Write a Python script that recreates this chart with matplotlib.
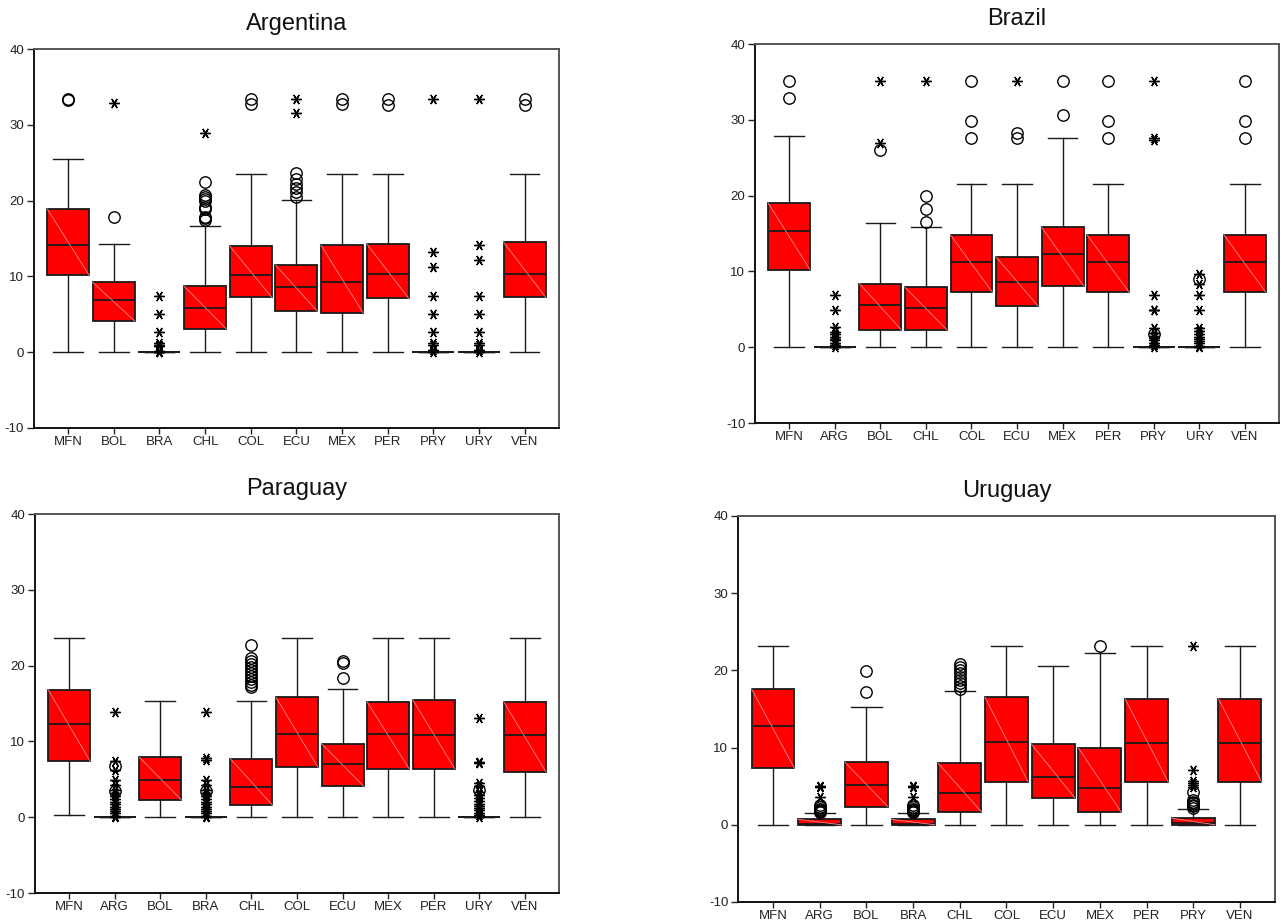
import numpy as np
import matplotlib
matplotlib.use("Agg")
import matplotlib.pyplot as plt

plt.rcParams['font.family'] = ['Liberation Sans', 'DejaVu Sans']

# ---------------- Argentina ----------------
arg_cats = ["MFN", "BOL", "BRA", "CHL", "COL", "ECU", "MEX", "PER", "PRY", "URY", "VEN"]
arg_low = [0, 0, 0, 0, 0, 0, 0, 0, 0, 0, 0]
arg_q1 = [10.15, 4.1, 0, 3.1, 7.25, 5.4, 5.2, 7.1, 0, 0, 7.25]
arg_med = [14.1, 6.9, 0, 5.8, 10.2, 8.6, 9.2, 10.3, 0, 0, 10.3]
arg_q3 = [18.9, 9.2, 0, 8.7, 14.0, 11.5, 14.1, 14.3, 0, 0, 14.5]
arg_high = [25.5, 14.3, 0, 16.6, 23.5, 20.1, 23.5, 23.5, 0, 0, 23.5]
arg_near = [[33.3, 33.45], [17.8], [], [22.4, 20.7, 20.5, 20.2, 19.9, 19.2, 18.9, 17.9, 17.7, 17.5],
            [33.4, 32.7], [23.6, 22.8, 22.2, 21.6, 21.1, 20.5], [33.4, 32.8], [33.4, 32.6],
            [], [], [33.4, 32.6]]
arg_far = [[], [32.9], [7.4, 5.05, 2.6, 1.2, 1.0, 0.85, 0.15, 0.05, 0.0], [28.9], [],
           [33.4, 31.6], [], [], [33.4, 13.2, 11.3, 7.4, 5.05, 2.6, 1.2, 0.9, 0.3, 0.0],
           [33.4, 14.1, 12.2, 7.4, 5.05, 2.6, 1.2, 0.9, 0.3, 0.0], []]

# ---------------- Brazil ----------------
bra_cats = ["MFN", "ARG", "BOL", "CHL", "COL", "ECU", "MEX", "PER", "PRY", "URY", "VEN"]
bra_low = [0, 0, 0, 0, 0, 0, 0, 0, 0, 0, 0]
bra_q1 = [10.2, 0, 2.3, 2.3, 7.25, 5.45, 8.1, 7.25, 0, 0, 7.25]
bra_med = [15.3, 0, 5.6, 5.15, 11.2, 8.6, 12.3, 11.2, 0, 0, 11.2]
bra_q3 = [19.0, 0, 8.4, 7.9, 14.8, 11.9, 15.8, 14.8, 0, 0, 14.8]
bra_high = [27.9, 0, 16.35, 15.8, 21.5, 21.5, 27.6, 21.5, 0, 0, 21.5]
bra_near = [[35.1, 32.9], [], [26.0], [19.9, 18.2, 16.5], [35.1, 29.8, 27.6], [28.3, 27.6],
            [35.1, 30.6], [35.1, 29.8, 27.6], [1.7], [9.0], [35.1, 29.8, 27.6]]
bra_far = [[], [6.9, 4.9, 2.7, 2.0, 1.7, 1.4, 1.1, 0.9, 0.6, 0.3, 0.0], [35.1, 27.0], [35.1], [],
           [35.1], [], [], [35.1, 27.55, 27.4, 6.9, 4.95, 4.85, 2.6, 1.9, 1.5, 1.2, 0.9, 0.6, 0.3, 0.0],
           [9.7, 8.3, 6.9, 4.9, 2.6, 2.1, 1.7, 1.4, 1.1, 0.8, 0.5, 0.2, 0.0], []]

# ---------------- Paraguay ----------------
pry_cats = ["MFN", "ARG", "BOL", "BRA", "CHL", "COL", "ECU", "MEX", "PER", "URY", "VEN"]
pry_low = [0.3, 0, 0, 0, 0, 0, 0, 0, 0, 0, 0]
pry_q1 = [7.4, 0, 2.3, 0, 1.6, 6.6, 4.1, 6.4, 6.4, 0, 6.0]
pry_med = [12.3, 0, 4.9, 0, 3.95, 11.0, 7.0, 11.0, 10.8, 0, 10.8]
pry_q3 = [16.8, 0, 7.9, 0, 7.7, 15.8, 9.7, 15.2, 15.5, 0, 15.2]
pry_high = [23.6, 0, 15.3, 0, 15.3, 23.6, 16.9, 23.6, 23.6, 0, 23.6]
pry_near = [[], [6.8, 3.4], [], [3.4], [22.7, 21.0, 20.6, 20.2, 19.8, 19.4, 19.0, 18.6, 18.2, 17.8, 17.4, 17.2],
            [], [20.6, 20.3, 18.3], [], [], [3.6], []]
pry_far = [[], [13.9, 7.4, 6.2, 4.9, 4.3, 3.6, 3.2, 2.8, 2.4, 2.0, 1.7, 1.4, 1.1, 0.8, 0.5, 0.2, 0.0], [],
           [13.9, 7.8, 7.6, 4.9, 4.3, 3.6, 3.2, 2.8, 2.4, 2.0, 1.7, 1.4, 1.1, 0.8, 0.5, 0.2, 0.0],
           [], [], [], [], [],
           [13.1, 7.3, 7.2, 4.5, 4.1, 3.3, 2.9, 2.5, 2.1, 1.8, 1.5, 1.2, 0.9, 0.6, 0.3, 0.0], []]

# ---------------- Uruguay ----------------
ury_cats = ["MFN", "ARG", "BOL", "BRA", "CHL", "COL", "ECU", "MEX", "PER", "PRY", "VEN"]
ury_low = [0, 0, 0, 0, 0, 0, 0, 0, 0, 0, 0]
ury_q1 = [7.3, 0, 2.35, 0, 1.7, 5.6, 3.5, 1.6, 5.6, 0, 5.6]
ury_med = [12.75, 0.15, 5.2, 0.15, 4.15, 10.7, 6.2, 4.8, 10.55, 0.2, 10.55]
ury_q3 = [17.6, 0.7, 8.1, 0.7, 7.95, 16.5, 10.4, 9.95, 16.3, 0.85, 16.3]
ury_high = [23.1, 1.55, 15.2, 1.55, 17.3, 23.1, 20.6, 22.2, 23.1, 2.05, 23.1]
ury_near = [[], [2.5, 2.3, 2.1, 1.95, 1.8, 1.7, 1.6], [19.9, 17.25], [2.5, 2.3, 2.1, 1.95, 1.8, 1.7, 1.6],
            [20.8, 20.4, 20.0, 19.6, 19.2, 18.8, 18.4, 18.0, 17.6], [], [], [23.1], [],
            [4.3, 3.2, 3.0, 2.8, 2.6, 2.4, 2.2], []]
ury_far = [[], [5.0, 4.85, 3.6], [], [5.0, 4.85, 3.6], [], [], [], [], [],
           [23.1, 7.1, 5.7, 5.4, 5.2, 4.9], []]

panels = [
    ("Argentina", [0.0265, 0.5363, 0.4098, 0.4106], arg_cats, arg_low, arg_q1, arg_med, arg_q3, arg_high, arg_near, arg_far),
    ("Brazil", [0.5894, 0.5417, 0.4091, 0.4106], bra_cats, bra_low, bra_q1, bra_med, bra_q3, bra_high, bra_near, bra_far),
    ("Paraguay", [0.0273, 0.0325, 0.4091, 0.4106], pry_cats, pry_low, pry_q1, pry_med, pry_q3, pry_high, pry_near, pry_far),
    ("Uruguay", [0.5761, 0.0228, 0.4192, 0.4182], ury_cats, ury_low, ury_q1, ury_med, ury_q3, ury_high, ury_near, ury_far),
]

fig = plt.figure(figsize=(12.81, 9.23), dpi=100)
BOXW = 0.92
edge = '#1a1a1a'
asterisk = (6, 2, 30)

for title, rect, cats, lo, q1, med, q3, hi, near, far in panels:
    ax = fig.add_axes(rect)
    pos = np.arange(1, len(cats) + 1)
    stats = [dict(whislo=a, q1=b, med=c, q3=d, whishi=e, fliers=[])
             for a, b, c, d, e in zip(lo, q1, med, q3, hi)]
    ax.bxp(stats, positions=pos, widths=BOXW, patch_artist=True, showfliers=False,
           capwidths=0.65,
           boxprops=dict(facecolor='#ff0000', edgecolor=edge, linewidth=1.3),
           medianprops=dict(color=edge, linewidth=1.3),
           whiskerprops=dict(color=edge, linewidth=1.0),
           capprops=dict(color=edge, linewidth=1.0))
    # faint diagonal in each box (top-left to bottom-right)
    for p, b, d in zip(pos, q1, q3):
        if d - b > 0.3:
            ax.plot([p - BOXW / 2, p + BOXW / 2], [d, b], color='#ff8a8a', lw=0.6, zorder=2.5)
    for p, vals in zip(pos, near):
        if vals:
            ax.plot(np.full(len(vals), p), vals, linestyle='none', marker='o', ms=8.2,
                    mfc='none', mec='black', mew=1.0, zorder=4)
    for p, vals in zip(pos, far):
        if vals:
            ax.plot(np.full(len(vals), p), vals, linestyle='none', marker=asterisk, ms=7.5,
                    color='black', mew=1.0, zorder=4)
    ax.set_xlim(0.25, len(cats) + 0.75)
    ax.set_ylim(-10, 40)
    ax.set_yticks([-10, 0, 10, 20, 30, 40])
    ax.set_yticklabels(["-10", "0", "10", "20", "30", "40"])
    ax.set_xticks(pos)
    ax.set_xticklabels(cats)
    ax.tick_params(axis='both', direction='out', labelsize=9.5, colors='#222222', width=1.0)
    ax.tick_params(axis='y', length=5, pad=2)
    ax.tick_params(axis='x', length=4, pad=1.5)
    for s in ['left', 'bottom']:
        ax.spines[s].set_color('#111111')
        ax.spines[s].set_linewidth(1.4)
    for s in ['top', 'right']:
        ax.spines[s].set_color('#555555')
        ax.spines[s].set_linewidth(1.4)
    ax.set_title(title, fontsize=17, pad=14, color='#111111')

fig.savefig("out.png", dpi=100)
